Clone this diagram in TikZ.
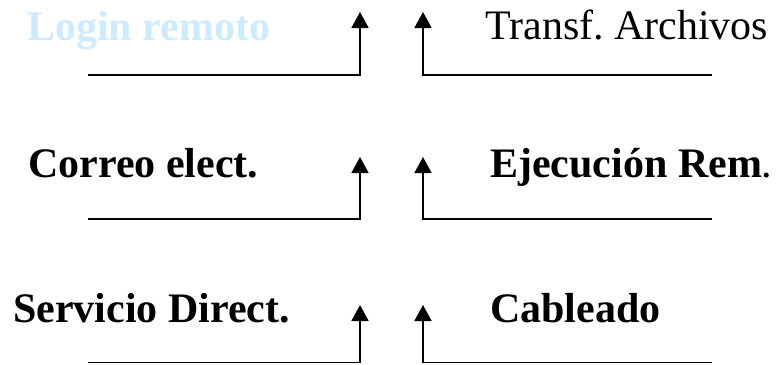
\documentclass[tikz,border=0pt]{standalone}
\usepackage{fontspec}
\setmainfont{Liberation Serif}
\usetikzlibrary{arrows.meta}
\definecolor{lightblue}{HTML}{CCEBFF}
\frenchspacing
\begin{document}
\begin{tikzpicture}[x=1pt,y=-1pt,
  lbl/.style={anchor=base west,inner sep=0pt,font=\fontsize{42}{48}\selectfont},
  blbl/.style={lbl,font=\fontsize{42}{48}\selectfont\bfseries},
  conn/.style={line width=1.8pt,-{Triangle[width=17pt,length=16pt]}}]
\useasboundingbox (0,0) rectangle (781,364);
% row 1
\node[blbl,text=lightblue] (login) at (27,40) {Login remoto};
\node[lbl] (transf) at (485,39) {Transf. Archivos};
\coordinate (a1s) at (88,75);
\coordinate (a1t) at (360,12);
\coordinate (b1s) at (712,75);
\coordinate (b1t) at (423,12);
\draw[conn] (a1s) -| (a1t);
\draw[conn] (b1s) -| (b1t);
% row 2
\node[blbl] (correo) at (28,177) {Correo elect.};
\node[lbl] (ejec) at (490,177) {\textbf{Ejecución Rem}.};
\coordinate (a2s) at (88,219);
\coordinate (a2t) at (360,157);
\coordinate (b2s) at (712,219);
\coordinate (b2t) at (423,157);
\draw[conn] (a2s) -| (a2t);
\draw[conn] (b2s) -| (b2t);
% row 3
\node[blbl] (serv) at (13,322) {Servicio Direct.};
\node[blbl] (cable) at (490,322) {Cableado};
\coordinate (a3s) at (88,362.5);
\coordinate (a3t) at (360,305);
\coordinate (b3s) at (712,362.5);
\coordinate (b3t) at (423,305);
\draw[conn] (a3s) -| (a3t);
\draw[conn] (b3s) -| (b3t);
\end{tikzpicture}
\end{document}
